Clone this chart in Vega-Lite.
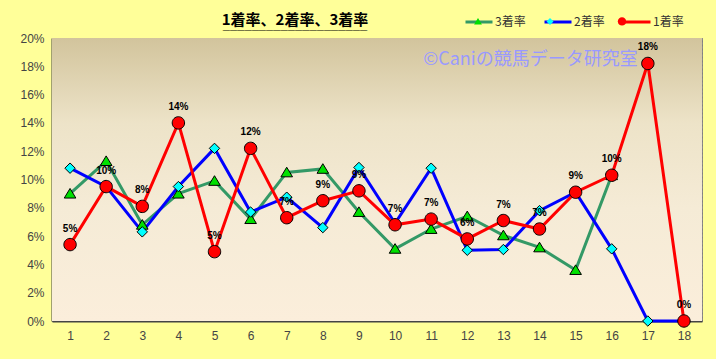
{
  "$schema": "https://vega.github.io/schema/vega-lite/v6.json",
  "width": 650,
  "height": 283,
  "autosize": "none",
  "padding": {"left": 52, "top": 38, "right": 14, "bottom": 38},
  "background": "#FFFF99",
  "title": {
    "text": "1着率、2着率、3着率",
    "subtitle": "____________________",
    "font": "Noto Sans CJK JP",
    "fontSize": 15,
    "fontWeight": "bold",
    "color": "#000000",
    "subtitleFont": "DejaVu Sans Mono",
    "subtitleFontSize": 12,
    "subtitleColor": "#000000",
    "subtitlePadding": -9,
    "anchor": "middle",
    "dx": -82,
    "offset": -23
  },
  "config": {
    "view": {"stroke": "#808080", "strokeWidth": 1},
    "font": "Liberation Sans",
    "axis": {
      "gridColor": "#8a8a8a",
      "gridDash": [2, 2],
      "gridWidth": 1,
      "ticks": false,
      "domainColor": "#444444",
      "domainWidth": 2,
      "labelColor": "#444444",
      "labelFont": "Liberation Sans",
      "labelFontSize": 12,
      "labelOverlap": false,
      "title": null
    }
  },
  "datasets": {
    "rates": [
      {"n": 1, "series": "3着率", "v": 0.090},
      {"n": 2, "series": "3着率", "v": 0.113},
      {"n": 3, "series": "3着率", "v": 0.068},
      {"n": 4, "series": "3着率", "v": 0.090},
      {"n": 5, "series": "3着率", "v": 0.099},
      {"n": 6, "series": "3着率", "v": 0.072},
      {"n": 7, "series": "3着率", "v": 0.105},
      {"n": 8, "series": "3着率", "v": 0.1075},
      {"n": 9, "series": "3着率", "v": 0.077},
      {"n": 10, "series": "3着率", "v": 0.051},
      {"n": 11, "series": "3着率", "v": 0.065},
      {"n": 12, "series": "3着率", "v": 0.074},
      {"n": 13, "series": "3着率", "v": 0.0605},
      {"n": 14, "series": "3着率", "v": 0.052},
      {"n": 15, "series": "3着率", "v": 0.036},
      {"n": 16, "series": "3着率", "v": 0.103},
      {"n": 1, "series": "2着率", "v": 0.108},
      {"n": 2, "series": "2着率", "v": 0.095},
      {"n": 3, "series": "2着率", "v": 0.063},
      {"n": 4, "series": "2着率", "v": 0.095},
      {"n": 5, "series": "2着率", "v": 0.122},
      {"n": 6, "series": "2着率", "v": 0.077},
      {"n": 7, "series": "2着率", "v": 0.0875},
      {"n": 8, "series": "2着率", "v": 0.066},
      {"n": 9, "series": "2着率", "v": 0.1085},
      {"n": 10, "series": "2着率", "v": 0.069},
      {"n": 11, "series": "2着率", "v": 0.108},
      {"n": 12, "series": "2着率", "v": 0.050},
      {"n": 13, "series": "2着率", "v": 0.0505},
      {"n": 14, "series": "2着率", "v": 0.078},
      {"n": 15, "series": "2着率", "v": 0.091},
      {"n": 16, "series": "2着率", "v": 0.051},
      {"n": 17, "series": "2着率", "v": 0.0},
      {"n": 18, "series": "2着率", "v": 0.0},
      {"n": 1, "series": "1着率", "v": 0.054},
      {"n": 2, "series": "1着率", "v": 0.095},
      {"n": 3, "series": "1着率", "v": 0.081},
      {"n": 4, "series": "1着率", "v": 0.140},
      {"n": 5, "series": "1着率", "v": 0.049},
      {"n": 6, "series": "1着率", "v": 0.122},
      {"n": 7, "series": "1着率", "v": 0.073},
      {"n": 8, "series": "1着率", "v": 0.085},
      {"n": 9, "series": "1着率", "v": 0.092},
      {"n": 10, "series": "1着率", "v": 0.068},
      {"n": 11, "series": "1着率", "v": 0.072},
      {"n": 12, "series": "1着率", "v": 0.058},
      {"n": 13, "series": "1着率", "v": 0.071},
      {"n": 14, "series": "1着率", "v": 0.065},
      {"n": 15, "series": "1着率", "v": 0.091},
      {"n": 16, "series": "1着率", "v": 0.103},
      {"n": 17, "series": "1着率", "v": 0.182},
      {"n": 18, "series": "1着率", "v": 0.0}
    ],
    "bg": [{"lo": 0, "hi": 0.2}],
    "mark": [{"t": "©Caniの競馬データ研究室", "n": 14, "v": 0.1845}]
  },
  "layer": [
    {
      "data": {"name": "bg"},
      "mark": {
        "type": "rect",
        "color": {
          "gradient": "linear",
          "x1": 0, "y1": 0, "x2": 0, "y2": 1,
          "stops": [
            {"offset": 0, "color": "#D2C49C"},
            {"offset": 0.3, "color": "#EDE3C8"},
            {"offset": 0.6, "color": "#F5EBD6"},
            {"offset": 1, "color": "#FBEEDB"}
          ]
        }
      },
      "encoding": {
        "y": {
          "field": "lo", "type": "quantitative", "scale": {"domain": [0, 0.2], "nice": false},
          "axis": {"format": ".0%", "tickCount": 10, "labelOverlap": false, "grid": true, "labelPadding": 8}
        },
        "y2": {"field": "hi"}
      }
    },
    {
      "data": {"name": "rates"},
      "mark": {"type": "line", "strokeWidth": 3},
      "encoding": {
        "x": {
          "field": "n", "type": "ordinal",
          "scale": {"type": "band", "paddingInner": 0, "paddingOuter": 0},
          "axis": {"tickBand": "extent", "labelAngle": 0, "grid": true, "labelPadding": 9}
        },
        "y": {
          "field": "v", "type": "quantitative",
          "axis": {"format": ".0%", "tickCount": 10, "labelOverlap": false, "grid": true, "labelPadding": 8}
        },
        "color": {
          "field": "series", "type": "nominal",
          "scale": {"domain": ["3着率", "2着率", "1着率"], "range": ["#339966", "#0000FF", "#FF0000"]},
          "legend": {
            "orient": "none", "legendX": 412, "legendY": -31, "direction": "horizontal",
            "title": null, "symbolType": "stroke", "symbolSize": 729, "symbolStrokeWidth": 3,
            "labelFont": "Noto Sans CJK JP", "labelFontSize": 12, "labelColor": "#333333",
            "labelOffset": 1, "columnPadding": 12
          }
        }
      }
    },
    {
      "data": {"name": "rates"},
      "mark": {"type": "point", "filled": true, "stroke": "#000000", "strokeWidth": 1, "opacity": 1, "size": 1600},
      "encoding": {
        "x": {"field": "n", "type": "ordinal"},
        "y": {"field": "v", "type": "quantitative"},
        "fill": {
          "field": "series", "type": "nominal", "sort": "descending",
          "scale": {"range": ["#00E000", "#00FFFF", "#FF0000"]},
          "legend": {
            "orient": "none", "legendX": 412, "legendY": -31, "direction": "horizontal",
            "title": null, "symbolSize": 729, "symbolStrokeColor": "#000000", "symbolStrokeWidth": 1,
            "labelFont": "Noto Sans CJK JP", "labelFontSize": 12, "labelColor": "rgba(0,0,0,0)",
            "labelOffset": 1, "columnPadding": 12
          }
        },
        "shape": {
          "field": "series", "type": "nominal", "sort": "descending",
          "scale": {"range": [
            "M0,-0.26L0.29,0.22L-0.29,0.22Z",
            "M0,-0.26L0.26,0L0,0.26L-0.26,0Z",
            "M0.31,0A0.31,0.31,0,1,1,-0.31,0A0.31,0.31,0,1,1,0.31,0Z"
          ]},
          "legend": {
            "orient": "none", "legendX": 412, "legendY": -31, "direction": "horizontal",
            "title": null, "symbolSize": 729, "symbolStrokeColor": "#000000", "symbolStrokeWidth": 1,
            "labelFont": "Noto Sans CJK JP", "labelFontSize": 12, "labelColor": "rgba(0,0,0,0)",
            "labelOffset": 1, "columnPadding": 12
          }
        }
      }
    },
    {
      "data": {"name": "rates"},
      "transform": [{"filter": "datum.series === '1着率'"}],
      "mark": {"type": "text", "dy": -16, "fontSize": 10, "fontWeight": "bold", "font": "Liberation Sans", "color": "#000000"},
      "encoding": {
        "x": {"field": "n", "type": "ordinal"},
        "y": {"field": "v", "type": "quantitative"},
        "text": {"field": "v", "type": "quantitative", "format": ".0%"}
      }
    },
    {
      "data": {"name": "mark"},
      "mark": {"type": "text", "fontSize": 18, "font": "Noto Sans CJK JP", "color": "#9999FF", "dx": -9},
      "encoding": {
        "x": {"field": "n", "type": "ordinal"},
        "y": {"field": "v", "type": "quantitative"},
        "text": {"field": "t"}
      }
    }
  ]
}
